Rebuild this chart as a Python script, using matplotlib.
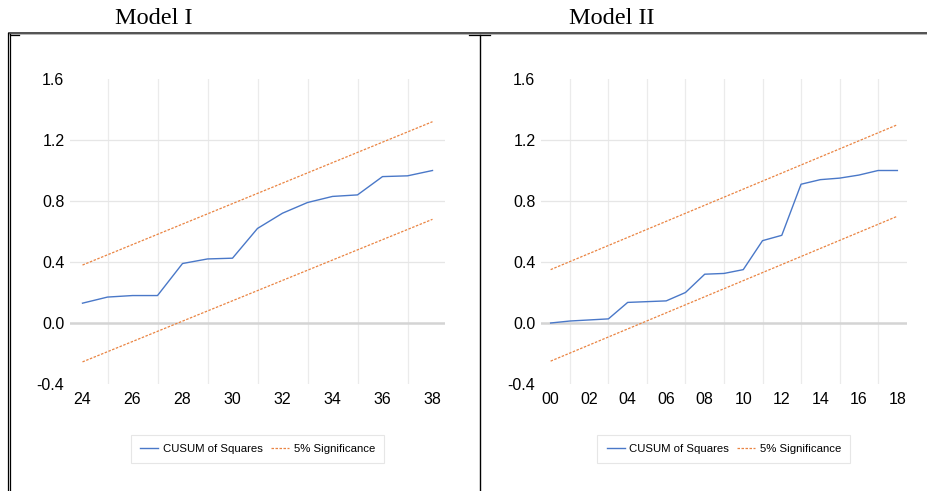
"""
CUSUM of Squares stability test, Model I and Model II (EViews style).
"""

import matplotlib.pyplot as plt
from matplotlib import font_manager
from matplotlib.lines import Line2D

# Model I: observations 24..38
m1_x = list(range(24, 39))
m1_cusum = [0.13, 0.17, 0.18, 0.18, 0.39, 0.42, 0.425, 0.62, 0.72,
            0.79, 0.83, 0.84, 0.96, 0.965, 1.0]
m1_bound_x = [24, 38]
m1_upper = [0.38, 1.32]
m1_lower = [-0.255, 0.68]
m1_ticks = [24, 26, 28, 30, 32, 34, 36, 38]
m1_ticklabels = ["24", "26", "28", "30", "32", "34", "36", "38"]

# Model II: observations 00..18
m2_x = list(range(0, 19))
m2_cusum = [0.0, 0.013, 0.02, 0.027, 0.135, 0.14, 0.145, 0.2, 0.32,
            0.325, 0.35, 0.54, 0.575, 0.91, 0.94, 0.95, 0.97, 1.0, 1.0]
m2_bound_x = [0, 18]
m2_upper = [0.35, 1.30]
m2_lower = [-0.25, 0.70]
m2_ticks = list(range(0, 19, 2))
m2_ticklabels = ["00", "02", "04", "06", "08", "10", "12", "14", "16", "18"]

y_ticks = [-0.4, 0.0, 0.4, 0.8, 1.2, 1.6]
y_ticklabels = ["-0.4", "0.0", "0.4", "0.8", "1.2", "1.6"]
y_grid = [0.4, 0.8, 1.2]

BLUE = "#4A78C8"
ORANGE = "#EA8442"
SERIF = ["Liberation Serif", "DejaVu Serif"]

# EViews uses Arial Narrow; fall back to Liberation Sans if narrow is missing
try:
    font_manager.findfont("Liberation Sans Narrow", fallback_to_default=False)
    NARROW, TICK_FS, LEG_FS = ["Liberation Sans Narrow", "DejaVu Sans"], 12.5, 10
except ValueError:
    NARROW, TICK_FS, LEG_FS = ["Liberation Sans", "DejaVu Sans"], 11.5, 8.2

W, H = 928, 491
fig = plt.figure(figsize=(W / 100, H / 100), dpi=100)


def px_axes(x0, x1, y0, y1):
    # pixel box (from top-left) -> figure fraction
    return fig.add_axes([x0 / W, 1 - y1 / H, (x1 - x0) / W, (y1 - y0) / H])


def panel(ax, x, cusum, bx, upper, lower, ticks, ticklabels, xlim):
    ax.set_xlim(*xlim)
    ax.set_ylim(-0.4, 1.6)
    for s in ax.spines.values():
        s.set_visible(False)

    # vertical grid sits half-way between the labelled years
    for g in range(int(xlim[0] + 2), int(xlim[1]) + 1, 2):
        ax.axvline(g, color="#EBEBEB", lw=0.9, zorder=0)
    for g in y_grid:
        ax.axhline(g, color="#E6E6E6", lw=0.9, zorder=0)
    ax.axhline(0.0, color="#D4D4D4", lw=1.8, zorder=0)

    ax.plot(x, cusum, color=BLUE, lw=1.0, zorder=3)
    ax.plot(bx, upper, color=ORANGE, lw=0.9, ls=(0, (2, 1.2)), zorder=2)
    ax.plot(bx, lower, color=ORANGE, lw=0.9, ls=(0, (2, 1.2)), zorder=2)

    ax.set_xticks(ticks)
    ax.set_xticklabels(ticklabels, family=NARROW, fontsize=TICK_FS)
    ax.set_yticks(y_ticks)
    ax.set_yticklabels(y_ticklabels, family=NARROW, fontsize=TICK_FS)
    ax.tick_params(length=0)
    ax.tick_params(axis="x", pad=6)
    ax.tick_params(axis="y", pad=4)

    handles = [Line2D([], [], color=BLUE, lw=1.0),
               Line2D([], [], color=ORANGE, lw=0.9, ls=(0, (2, 1.2)))]
    leg = ax.legend(handles, ["CUSUM of Squares", "5% Significance"],
                    loc="center", bbox_to_anchor=(0.5, -0.212), ncol=2,
                    prop={"family": NARROW, "size": LEG_FS}, frameon=True,
                    fancybox=False, handlelength=1.6, handletextpad=0.4,
                    columnspacing=0.7, borderpad=0.8, borderaxespad=0)
    leg.get_frame().set_edgecolor("#E0E0E0")
    leg.get_frame().set_linewidth(0.8)


ax1 = px_axes(70, 445, 79, 384)
panel(ax1, m1_x, m1_cusum, m1_bound_x, m1_upper, m1_lower,
      m1_ticks, m1_ticklabels, (23.5, 38.5))

ax2 = px_axes(541, 907, 79, 384)
panel(ax2, m2_x, m2_cusum, m2_bound_x, m2_upper, m2_lower,
      m2_ticks, m2_ticklabels, (-0.5, 18.5))

# titles above the table cells
fig.text(154 / W, 1 - 19 / H, "Model I", ha="center", va="center",
         family=SERIF, fontsize=17.5)
fig.text(612 / W, 1 - 19 / H, "Model II", ha="center", va="center",
         family=SERIF, fontsize=17.5)


# table borders (Word-style)
def fline(xs, ys, **kw):
    fig.add_artist(Line2D([x / W for x in xs], [1 - y / H for y in ys],
                          transform=fig.transFigure, **kw))


fline([9, 928], [32.5, 32.5], color="#333333", lw=1.2)
fline([9, 928], [34, 34], color="#AAAAAA", lw=0.6)
fline([8, 8], [33, 491], color="black", lw=0.9)
fline([10.5, 10.5], [34, 491], color="black", lw=0.9)
fline([10, 19], [34.5, 34.5], color="black", lw=0.9)
fline([469, 490], [34.5, 34.5], color="black", lw=0.9)
fline([480, 480], [34.5, 491], color="black", lw=1.0)

fig.savefig("out.png", dpi=100)
